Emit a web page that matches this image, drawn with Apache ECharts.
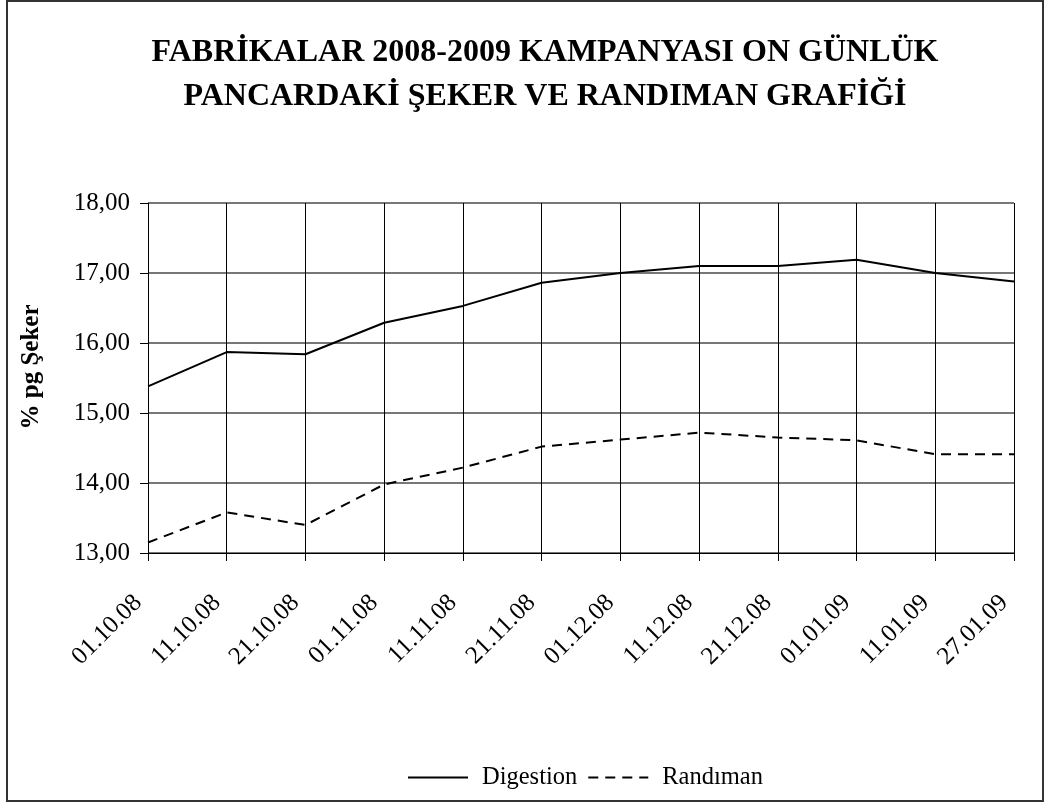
<!DOCTYPE html>
<html>
<head>
<meta charset="utf-8">
<script src="https://cdn.jsdelivr.net/npm/echarts@6/dist/echarts.min.js"></script>
<style>
  html, body { margin: 0; padding: 0; background: #fff; }
  #chart { width: 1045px; height: 804px; }
</style>
</head>
<body>
<div id="chart"></div>
<script>
// on günlük tarihler
const dates = ['01.10.08', '11.10.08', '21.10.08', '01.11.08', '11.11.08', '21.11.08',
  '01.12.08', '11.12.08', '21.12.08', '01.01.09', '11.01.09', '27.01.09'];
const digestion = [15.38, 15.87, 15.84, 16.29, 16.53, 16.86, 17.00, 17.10, 17.10, 17.19, 17.00, 16.88];
const randiman = [13.15, 13.58, 13.40, 13.98, 14.22, 14.52, 14.62, 14.72, 14.65, 14.61, 14.41, 14.41];

const serif = '"Liberation Serif", "Times New Roman", serif';

const chart = echarts.init(document.getElementById('chart'));

const option = {
  backgroundColor: '#fff',
  animation: false,
  title: {
    text: 'FABRİKALAR 2008-2009 KAMPANYASI ON GÜNLÜK\nPANCARDAKİ ŞEKER VE RANDIMAN GRAFİĞİ',
    left: 540,
    textAlign: 'center',
    top: 26,
    textStyle: {
      fontFamily: serif,
      fontSize: 32,
      fontWeight: 'bold',
      color: '#000',
      lineHeight: 44
    }
  },
  legend: {
    bottom: 9,
    left: 402,
    itemWidth: 60,
    itemHeight: 12,
    itemGap: 10,
    itemStyle: { opacity: 0 },
    textStyle: { fontFamily: serif, fontSize: 24.5, color: '#000', padding: [0, 0, 0, 9] },
    data: ['Digestion', 'Randıman']
  },
  grid: { left: 148, right: 31, top: 203, bottom: 251 },
  xAxis: {
    type: 'category',
    data: dates,
    boundaryGap: false,
    axisLine: { lineStyle: { color: '#000', width: 1 } },
    axisTick: { show: true, length: 8, lineStyle: { color: '#000' } },
    splitLine: { show: true, lineStyle: { color: '#000', width: 1 } },
    axisLabel: {
      rotate: 45,
      margin: 36,
      padding: [0, 14, 25, 0],
      fontFamily: serif,
      fontSize: 25,
      color: '#000'
    }
  },
  yAxis: {
    type: 'value',
    min: 13,
    max: 18,
    interval: 1,
    name: '% pg Şeker',
    nameLocation: 'middle',
    nameGap: 104,
    nameTextStyle: { fontFamily: serif, fontSize: 25, fontWeight: 'bold', color: '#000', padding: [0, 0, 0, 22] },
    axisLine: { show: true, lineStyle: { color: '#000', width: 1 } },
    axisTick: { show: true, length: 8, lineStyle: { color: '#000' } },
    splitLine: { show: true, lineStyle: { color: '#777', width: 2 } },
    axisLabel: {
      margin: 18,
      fontFamily: serif,
      fontSize: 25,
      color: '#000',
      formatter: v => v.toFixed(2).replace('.', ',')
    }
  },
  series: [
    {
      name: 'Digestion',
      type: 'line',
      data: digestion,
      symbol: 'none',
      lineStyle: { color: '#000', width: 2 },
      itemStyle: { color: '#000' }
    },
    {
      name: 'Randıman',
      type: 'line',
      data: randiman,
      symbol: 'none',
      lineStyle: { color: '#000', width: 2, type: [10, 7] },
      itemStyle: { color: '#000' }
    }
  ],
  graphic: [{
    type: 'rect',
    shape: { x: 7, y: 1, width: 1036, height: 800 },
    style: { fill: 'none', stroke: '#333', lineWidth: 2 },
    silent: true
  }]
};

chart.setOption(option);
</script>
</body>
</html>
